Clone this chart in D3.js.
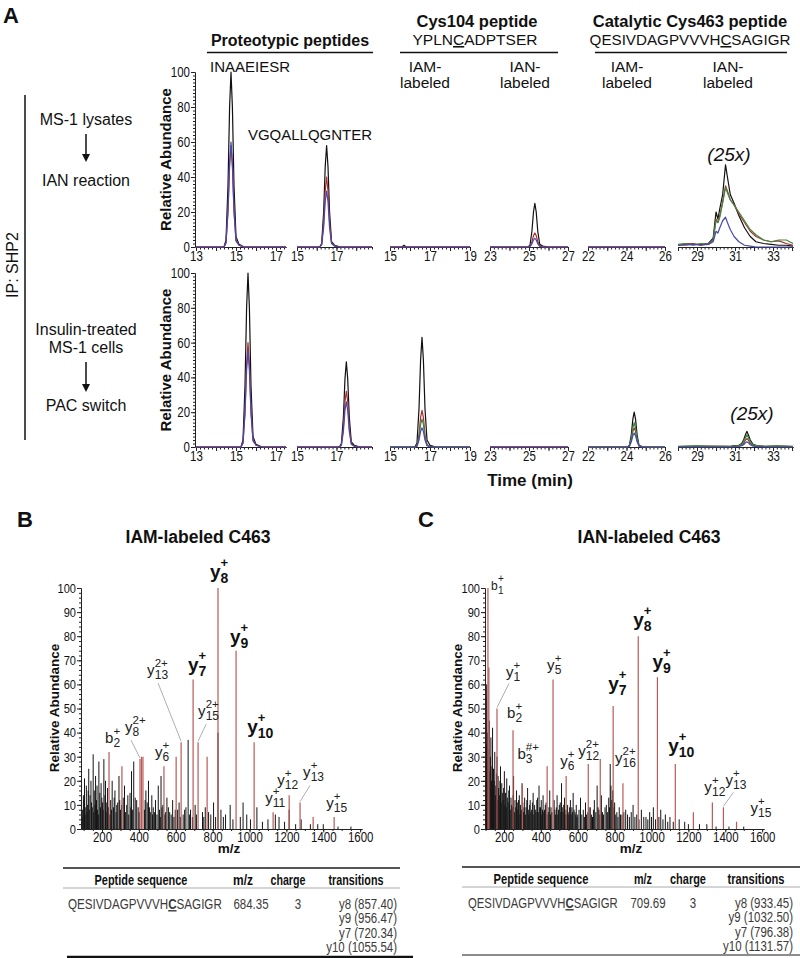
<!DOCTYPE html>
<html><head><meta charset="utf-8">
<script src="https://cdn.jsdelivr.net/npm/d3@7/dist/d3.min.js"></script>
<style>
body{margin:0;background:#fff}
svg{display:block}
text{font-family:"Liberation Sans",Arial,Helvetica,sans-serif;fill:#111}
</style></head><body>
<svg id="fig" width="800" height="958"></svg>
<script>
// ---------------- DATA ----------------
// Panel A: extracted-ion chromatograms (time in min, relative abundance)
const chromPeptides = ["INAAEIESR","VGQALLQGNTER","YPLNCADPTSER IAM","YPLNCADPTSER IAN","QESIVDAGPVVVHCSAGIGR IAM","QESIVDAGPVVVHCSAGIGR IAN"];
const chromDomains = [[13,17.5],[15,18.8],[15,19],[23,27],[22,26],[28,34.05]];
const chromTicks = [[13,15,17],[15,17],[15,17,19],[23,25,27],[22,24,26],[29,31,33]];
const yTicksA = [0,20,40,60,80,100];

const topTimes = [
 [13,14.4,14.5,14.6,14.68,14.75,14.82,14.9,15.0,15.15,15.4,17.5],
 [15,16.15,16.25,16.35,16.43,16.5,16.57,16.65,16.75,16.9,17.2,18.8],
 [15,15.6,15.7,15.8,19],
 [23,24.95,25.05,25.15,25.23,25.3,25.37,25.45,25.55,25.7,26,27],
 [22,26],
 [28,28.4,28.8,29.2,29.6,29.85,30.0,30.1,30.2,30.35,30.5,30.6,30.75,30.95,31.2,31.5,31.8,32.1,32.5,32.9,33.3,33.7,34.05]
];
const topBlack = [
 [0,0,4,35,80,100,80,35,6,1.5,0,0],
 [0,0,2,20,46,58,46,20,3,1,0,0],
 [0,0,1,0,0],
 [0,0,1,9,20,25,20,9,1.5,0.5,0,0],
 [0,0],
 [1,2,1.5,1.5,2,5,20,16,22,30,47,40,30,25,18,11,6,3,2,1.5,1,1,0.5]
];
const topRed = [
 [0,0,2.3,20,46,58,46,20,3.5,1,0,0],
 [0,0,1.5,14,32,40,32,14,2.4,0.6,0,0],
 [0,0,0,0,0],
 [0,0,0.3,3,6.5,8,6.5,3,0.5,0.2,0,0],
 [0,0],
 [1,1.5,2,1,2,4,16,14,18,26,35,32,27,24,19,14,9,6,4,3,3.5,2,1]
];
const topBlue = [
 [0,0,2.4,21,48,60,48,21,3.6,1,0,0],
 [0,0,1.2,11,26,32,26,11,2,0.5,0,0],
 [0,0,0,0,0],
 [0,0,0.2,1.8,4,5,4,1.8,0.3,0.1,0,0],
 [0,0],
 [1,1,1.5,1,1.5,3,9,8,11,15,17,14,10,6,3,1,0.5,0,0,0,0,0,0]
];
const topGreen = [null,null,null,null,null,
 [1.5,2,1,2,1.5,4,15,14,17,25,34,31,27,24,20,15,10,7,4,3,4,4,2]
];

const botTimes = [
 [13,15.25,15.35,15.45,15.53,15.6,15.67,15.75,15.85,16.0,16.3,17.5],
 [15,17.15,17.25,17.35,17.43,17.5,17.57,17.65,17.75,17.9,18.2,18.8],
 [15,16.25,16.35,16.45,16.53,16.6,16.67,16.75,16.85,17.0,17.3,19],
 [23,27],
 [22,24.05,24.15,24.25,24.33,24.4,24.47,24.55,24.65,24.8,25.1,26],
 [28,29,30,30.8,31.2,31.35,31.45,31.55,31.62,31.7,31.8,31.95,32.2,32.6,33.2,34.05]
];
const botBlack = [
 [0,0,4,35,80,100,80,35,6,1.5,0,0],
 [0,0,2,17,39,49,39,17,3,1,0,0],
 [0,0,2.5,22,50,63,50,22,4,1,0,0],
 [0,0],
 [0,0,1,7,16,20,16,7,1,0.3,0,0],
 [0.3,0.5,0.3,0.5,1,2,4,7,9,7,4,1.5,0.6,0.3,0.5,0.3]
];
const botRed = [
 [0,0,2.5,21,48,60,48,21,4,1,0,0],
 [0,0,1.3,11,26,32,26,11,2,0.5,0,0],
 [0,0,0.8,7,17,21,17,7,1.3,0.4,0,0],
 [0,0],
 [0,0,0.5,4,9,11,9,4,0.6,0.2,0,0],
 [0.3,0.3,0.5,0.3,0.6,1,2,4,5,4,2,1,0.5,0.3,0.4,0.2]
];
const botBlue = [
 [0,0,2.2,19,44,55,44,19,3.5,1,0,0],
 [0,0,1,9,21,26,21,9,1.6,0.4,0,0],
 [0,0,0.4,4,9,11,9,4,0.7,0.2,0,0],
 [0,0],
 [0,0,0.3,3,6.5,8,6.5,3,0.5,0.1,0,0],
 [0,0,0,0,0.3,0.7,1.3,2.5,3,2.5,1.3,0.5,0.2,0,0,0]
];
const botGreen = [null,null,
 [0,0,0.6,5.5,13,16,13,5.5,1,0.3,0,0],
 null,
 [0,0,0.7,5,11,14,11,5,0.8,0.3,0,0],
 [0.4,0.6,0.4,0.3,0.8,1.5,3,5.5,7,5.5,3,1.2,0.6,0.5,0.6,0.4]
];

// Panels B and C: MS/MS spectra [m/z, relative abundance]
const bBlack = [[92,5],[95,8],[99,14],[102,12],[105,21],[108,6],[112,9],[115,18],[119,7],[122,10],[125,16],[128,25],[131,8],[135,14],[140,20],[143,11],[147,9],[152,31],[155,7],[158,16],[162,10],[165,22],[170,12],[173,18],[176,8],[180,6],[183,28],[188,15],[192,9],[195,19],[199,13],[203,11],[206,8],[210,29],[216,14],[219,20],[222,7],[226,11],[230,17],[235,9],[242,6],[247,12],[251,8],[255,20],[262,9],[266,13],[270,16],[276,7],[280,10],[285,11],[292,22],[296,12],[300,8],[306,10],[315,13],[322,18],[328,7],[334,10],[340,14],[345,6],[352,15],[356,9],[360,24],[366,8],[372,28],[380,13],[388,12],[396,9],[402,7],[430,8],[434,12],[438,16],[445,11],[452,20],[458,9],[462,7],[470,14],[474,6],[478,9],[484,7],[490,12],[498,6],[505,18],[512,8],[516,5],[520,22],[525,9],[530,10],[540,6],[545,7],[552,13],[560,9],[567,7],[575,6],[583,12],[590,5],[597,8],[610,8],[618,11],[625,5],[640,6],[648,8],[655,9],[667,37],[674,6],[680,8],[690,5],[705,10],[712,6],[745,7],[752,5],[760,9],[778,7],[790,6],[805,11],[816,5],[829,40],[845,8],[858,5],[870,6],[895,10],[910,4],[950,5],[965,11],[985,6],[1005,4],[1040,9],[1070,3],[1100,4],[1140,6],[1160,5],[1190,3],[1215,8],[1250,2],[1280,4],[1330,2],[1370,2],[1400,2],[1480,1],[1550,1]];
const bRed = [[238,32],[308,26],[406,29],[414,30],[422,30],[536,26],[602,30],[629,36],[694,62],[721,36],[770,30],[829,100],[927,74],[1025,36],[1128,7],[1215,14],[1274,11],[1345,5],[1459,5]];
const bIons = [["y","8","+",829,100],["y","9","+",927,74],["y","7","+",694,62],["y","10","+",1025,36],["y","13","2+",629,36],["y","15","2+",721,36],["y","8","2+",406,29],["b","2","+",238,32],["y","6","+",536,26],["y","11","+",1128,7],["y","12","+",1215,14],["y","13","+",1274,11],["y","15","+",1459,5]];

const cBlack = [[100,22],[102,55],[104,35],[106,60],[108,18],[110,40],[112,28],[115,33],[120,45],[123,24],[126,30],[129,38],[132,20],[135,26],[138,42],[141,16],[143,25],[147,20],[150,32],[153,14],[156,18],[159,23],[162,30],[165,12],[168,22],[171,17],[175,14],[178,20],[181,26],[185,11],[188,19],[191,15],[195,12],[198,17],[202,24],[205,10],[208,15],[212,9],[215,21],[218,13],[222,11],[226,16],[230,18],[234,8],[238,13],[242,10],[246,9],[249,14],[252,22],[256,7],[260,12],[264,9],[268,16],[272,11],[275,8],[279,12],[283,14],[287,6],[290,10],[294,8],[298,19],[302,11],[305,7],[309,9],[312,13],[316,6],[320,9],[324,12],[328,17],[332,8],[335,6],[339,10],[342,12],[346,7],[350,8],[354,11],[358,15],[362,6],[366,10],[370,8],[374,7],[378,12],[382,13],[386,7],[390,18],[394,9],[398,9],[402,12],[405,6],[409,8],[412,14],[416,7],[420,8],[424,10],[428,11],[435,6],[440,7],[444,9],[448,16],[452,6],[455,9],[460,7],[472,12],[476,8],[480,6],[484,9],[488,14],[492,6],[496,8],[500,10],[505,11],[508,7],[512,19],[516,9],[520,7],[524,10],[528,13],[532,6],[536,8],[540,6],[545,10],[548,7],[552,6],[556,9],[560,12],[564,6],[568,9],[571,7],[575,15],[580,8],[585,7],[589,6],[592,10],[596,5],[600,6],[607,8],[615,13],[622,6],[630,8],[636,5],[642,11],[648,6],[655,7],[661,9],[668,9],[674,6],[680,5],[685,8],[690,12],[698,7],[705,18],[710,9],[715,8],[720,6],[728,14],[734,7],[740,6],[748,9],[755,10],[762,7],[768,13],[772,9],[776,27],[780,18],[785,12],[790,16],[795,9],[800,11],[806,6],[812,7],[818,5],[825,9],[832,6],[840,6],[850,7],[860,8],[870,6],[880,5],[890,7],[900,10],[910,5],[920,6],[932,4],[945,8],[958,5],[970,5],[980,4],[990,7],[1000,5],[1010,9],[1022,4],[1040,5],[1050,8],[1062,4],[1075,6],[1088,3],[1100,5],[1118,3],[1150,4],[1180,3],[1200,2],[1260,2],[1300,2],[1350,1],[1420,1],[1500,1]];
const cRed = [[113,100],[118,67],[162,50],[249,41],[300,18],[434,26],[466,62],[537,22],[657,27],[722,29],[792,51],[845,19],[928,80],[1032,63],[1129,27],[1227,7],[1330,11],[1390,9],[1461,3]];
const cIons = [["b","1","+",113,100],["y","1","+",162,50],["b","2","+",249,41],["b","3","#+",300,18],["y","5","+",466,62],["y","6","+",537,22],["y","12","2+",657,27],["y","16","2+",845,19],["y","7","+",792,51],["y","8","+",928,80],["y","9","+",1032,63],["y","10","+",1129,27],["y","12","+",1330,11],["y","13","+",1390,9],["y","15","+",1461,3]];

const mzTicks = [200,400,600,800,1000,1200,1400,1600];
const abTicks = [0,10,20,30,40,50,60,70,80,90,100];

// Tables
const tableHeaders = ["Peptide sequence","m/z","charge","transitions"];
const peptideSeq = ["QESIVDAGPVVVH","C","SAGIGR"];
const precursorMz = ["684.35","709.69"];
const charges = ["3","3"];
const transitionsB = ["y8 (857.40)","y9 (956.47)","y7 (720.34)","y10 (1055.54)"];
const transitionsC = ["y8 (933.45)","y9 (1032.50)","y7 (796.38)","y10 (1131.57)"];

// ---------------- LAYOUT / DRAW ----------------
const svg = d3.select('#fig');
const FONT = '"Liberation Sans",Arial,Helvetica,sans-serif';
const NARROW = 0.82;
function squeeze(t,k){ // horizontal condensing around the text's x anchor
  const x = +t.attr('x') || 0;
  t.attr('transform',`translate(${x},0) scale(${k},1) translate(${-x},0)`);
  return t;
}
function fitWidth(t,w){
  const n = t.node().getComputedTextLength();
  if(n>0) squeeze(t, w/n);
  return t;
}
function txt(x,y,s,size,opts={}){
  const t = svg.append('text').attr('x',x).attr('y',y).attr('font-size',size).text(s);
  if(opts.bold) t.attr('font-weight','bold');
  if(opts.anchor) t.attr('text-anchor',opts.anchor);
  if(opts.italic) t.attr('font-style','italic');
  if(opts.fill) t.style('fill',opts.fill);
  if(opts.rot) t.attr('transform',`rotate(${opts.rot},${x},${y})`);
  return t;
}
function styleAxis(g,size){
  g.attr('font-family',null).attr('font-size',null);
  g.selectAll('text').attr('font-size',size).style('fill','#111').attr('font-family',FONT)
    .each(function(){ squeeze(d3.select(this),NARROW); });
  g.selectAll('line,path').attr('stroke','#222');
}

// ---- Panel A headers
txt(3,23,'A',22,{bold:true});
txt(290,46,'Proteotypic peptides',16,{bold:true,anchor:'middle'});
svg.append('line').attr('x1',207).attr('x2',373).attr('y1',52.5).attr('y2',52.5).attr('stroke','#111').attr('stroke-width',1.5);
txt(477,27,'Cys104 peptide',16.5,{bold:true,anchor:'middle'});
const t1 = txt(475,45,'',15.5,{anchor:'middle'});
t1.append('tspan').text('YPLN'); t1.append('tspan').attr('text-decoration','underline').text('C'); t1.append('tspan').text('ADPTSER');
svg.append('line').attr('x1',400).attr('x2',558).attr('y1',52.5).attr('y2',52.5).attr('stroke','#111').attr('stroke-width',1.5);
txt(690,27,'Catalytic Cys463 peptide',16.5,{bold:true,anchor:'middle'});
const t2 = txt(690,45,'',15.2,{anchor:'middle'});
t2.append('tspan').text('QESIVDAGPVVVH'); t2.append('tspan').attr('text-decoration','underline').text('C'); t2.append('tspan').text('SAGIGR');
svg.append('line').attr('x1',595).attr('x2',787).attr('y1',52.5).attr('y2',52.5).attr('stroke','#111').attr('stroke-width',1.5);
[[425,'IAM-'],[525,'IAN-'],[627,'IAM-'],[728,'IAN-']].forEach(d=>{
  txt(d[0],72,d[1],15.5,{anchor:'middle'});
  txt(d[0],88,'labeled',15.5,{anchor:'middle'});
});
txt(250,72,chromPeptides[0],15,{anchor:'middle'});
txt(310,140,chromPeptides[1],15,{anchor:'middle'});

// left annotations
svg.append('line').attr('x1',25).attr('x2',25).attr('y1',95).attr('y2',440).attr('stroke','#111').attr('stroke-width',1.5);
txt(18,265,'IP: SHP2',16,{anchor:'middle',rot:-90});
function arrow(x,y1,y2){
  svg.append('line').attr('x1',x).attr('x2',x).attr('y1',y1).attr('y2',y2-6).attr('stroke','#111').attr('stroke-width',1.5);
  svg.append('path').attr('d',`M${x-4},${y2-8}L${x+4},${y2-8}L${x},${y2}Z`).attr('fill','#111');
}
txt(86,125,'MS-1 lysates',16,{anchor:'middle'});
arrow(86,134,162);
txt(86,186,'IAN reaction',16,{anchor:'middle'});
txt(86,335,'Insulin-treated',16,{anchor:'middle'});
txt(86,353,'MS-1 cells',16,{anchor:'middle'});
arrow(86,362,392);
txt(86,411,'PAC switch',16,{anchor:'middle'});

// chromatograms
const panelX = [[196,286],[297,372],[390,470],[490,568],[588,665],[678,793]];
const rowY = [[247,72],[447,273]];
const traceColor = {black:'#111', red:'#a83232', green:'#3e8a3e', blue:'#4848b0'};
const drawOrder = ['black','red','green','blue'];
const rowsData = [
  {times:topTimes, black:topBlack, red:topRed, green:topGreen, blue:topBlue},
  {times:botTimes, black:botBlack, red:botRed, green:botGreen, blue:botBlue}
];
rowsData.forEach((rd,ri)=>{
  const y = d3.scaleLinear().domain([0,100]).range(rowY[ri]);
  const gyMinor = svg.append('g').attr('transform','translate(195,0)')
    .call(d3.axisLeft(y).tickValues(d3.range(0,101,2)).tickSize(2).tickFormat('').tickSizeOuter(0));
  styleAxis(gyMinor,14);
  const gy = svg.append('g').attr('transform','translate(195,0)')
    .call(d3.axisLeft(y).tickValues(yTicksA).tickSize(4).tickPadding(1).tickSizeOuter(0));
  styleAxis(gy,14);
  txt(171,(rowY[ri][0]+rowY[ri][1])/2,'Relative Abundance',15,{bold:true,anchor:'middle',rot:-90});
  chromDomains.forEach((dom,pi)=>{
    const x = d3.scaleLinear().domain(dom).range(panelX[pi]);
    const minor = d3.range(Math.ceil(dom[0]*5-1e-6), Math.floor(dom[1]*5+1e-6)+1).map(k=>k/5);
    const gm = svg.append('g').attr('transform',`translate(0,${y(0)})`)
      .call(d3.axisBottom(x).tickValues(minor).tickSize(2.5).tickFormat('').tickSizeOuter(0));
    styleAxis(gm,14);
    const ints = d3.range(Math.ceil(dom[0]), Math.floor(dom[1])+1);
    const ga = svg.append('g').attr('transform',`translate(0,${y(0)})`)
      .call(d3.axisBottom(x).tickValues(ints).tickSize(4).tickPadding(0).tickSizeOuter(0)
        .tickFormat(d=>chromTicks[pi].includes(d)?d:''));
    styleAxis(ga,14);
    const line = d3.line().x(d=>x(d[0])).y(d=>y(d[1]));
    drawOrder.forEach(s=>{
      const vals = rd[s][pi]; if(!vals) return;
      const pts = rd.times[pi].map((t,i)=>[t,vals[i]]);
      svg.append('path').datum(pts).attr('d',line).attr('fill','none')
        .attr('stroke',traceColor[s]).attr('stroke-width',1.2).attr('stroke-linejoin','round');
    });
  });
});
txt(729,161,'(25x)',19,{italic:true,anchor:'middle'});
txt(752,420,'(25x)',19,{italic:true,anchor:'middle'});
txt(530,486,'Time (min)',17,{bold:true,anchor:'middle'});

// ---- Panels B & C
function ion(x,y,base,sub,sup,style){
  const S = {bold:{b:19,s:14,p:13,w:'bold',bw:10.5,pu:-11,sd:5,c:'#111'},
             reg:{b:15,s:12,p:11.5,w:'normal',bw:7.6,pu:-8,sd:4,c:'#222'},
             small:{b:12,s:10,p:10,w:'normal',bw:6.5,pu:-8,sd:4,c:'#222'}}[style];
  const bw = base==='b' ? S.bw*1.1 : S.bw;
  txt(x,y,base,S.b,{bold:S.w==='bold',fill:S.c});
  txt(x+bw,y+S.pu,sup,S.p,{bold:S.w==='bold',fill:S.c});
  txt(x+bw,y+S.sd,sub,S.s,{bold:S.w==='bold',fill:S.c});
}
function spectrum(cfg){
  const x = d3.scaleLinear().domain(cfg.xDomain).range(cfg.xRange);
  const y = d3.scaleLinear().domain([0,100]).range([829,588]);
  const g = svg.append('g');
  g.selectAll('line.bk').data(cfg.black).join('line').attr('class','bk')
    .attr('x1',d=>x(d[0])).attr('x2',d=>x(d[0])).attr('y1',y(0)).attr('y2',d=>y(d[1]))
    .attr('stroke','#151515').attr('stroke-width',1);
  g.selectAll('line.rd').data(cfg.red).join('line').attr('class','rd')
    .attr('x1',d=>x(d[0])).attr('x2',d=>x(d[0])).attr('y1',y(0)).attr('y2',d=>y(d[1]))
    .attr('stroke','#b85a55').attr('stroke-width',1.2);
  const gym = svg.append('g').attr('transform',`translate(${cfg.xRange[0]},0)`)
    .call(d3.axisLeft(y).tickValues(d3.range(0,101,2)).tickSize(2).tickFormat('').tickSizeOuter(0));
  styleAxis(gym,13.5);
  const gy = svg.append('g').attr('transform',`translate(${cfg.xRange[0]},0)`)
    .call(d3.axisLeft(y).tickValues(abTicks).tickSize(4).tickPadding(1).tickSizeOuter(0));
  styleAxis(gy,13.5);
  const gxm = svg.append('g').attr('transform',`translate(0,${y(0)})`)
    .call(d3.axisBottom(x).tickValues(d3.range(100,1601,50)).tickSize(2).tickFormat('').tickSizeOuter(0));
  styleAxis(gxm,13.5);
  const gx = svg.append('g').attr('transform',`translate(0,${y(0)})`)
    .call(d3.axisBottom(x).tickValues(mzTicks).tickFormat(d3.format('d')).tickSize(3.5).tickPadding(0).tickSizeOuter(0));
  styleAxis(gx,14);
  txt(cfg.mzLabelX,853,'m/z',13.5,{bold:true,anchor:'middle'});
  txt(cfg.yLabelX,708,'Relative Abundance',13.5,{bold:true,anchor:'middle',rot:-90});
  txt(cfg.titleX,543,cfg.title,17.5,{bold:true,anchor:'middle'});
  txt(cfg.letterX,527,cfg.letter,22,{bold:true});
  cfg.ions.forEach((d,i)=>{
    const L = cfg.layout[i];
    const px = x(d[3]), py = y(d[4]);
    const ax = px+L[0], ay = py+L[1];
    if(L[3]) svg.append('line').attr('x1',ax+L[3][0]).attr('y1',ay+L[3][1]).attr('x2',px).attr('y2',py-1)
      .attr('stroke','#999').attr('stroke-width',0.8);
    ion(ax,ay,d[0],d[1],d[2],L[2]);
  });
}
spectrum({xDomain:[86,1610],xRange:[81,362],black:bBlack,red:bRed,ions:bIons,
  layout:[[-8,-10,'bold'],[-6,-8,'bold'],[-5,-9,'bold'],[-7,-9,'bold'],[-34,-67,'reg',[11,8]],[0,-26,'reg',[8,8]],[-15,-27,'reg',[6,8]],[-4,-9,'reg'],[-9,-9,'reg'],[-8,-9,'reg'],[-12,-10,'reg'],[3,-25,'reg',[7,8]],[-8,-9,'reg']],
  mzLabelX:229,yLabelX:59,titleX:198,title:'IAM-labeled C463',letterX:17,letter:'B'});
spectrum({xDomain:[97,1610],xRange:[485,764],black:cBlack,red:cRed,ions:cIons,
  layout:[[3,2,'small'],[9,-32,'reg',[3,7]],[-6,-12,'reg'],[-5,-27,'reg'],[-6,-10,'reg'],[-6,-10,'reg'],[-10,-8,'reg'],[-8,-20,'reg'],[-5,-16,'bold'],[-5,-10,'bold'],[-5,-9,'bold'],[-7,-12,'bold'],[-8,-10,'reg'],[2,-22,'reg',[8,7]],[14,-9,'reg']],
  mzLabelX:631,yLabelX:462,titleX:649,title:'IAN-labeled C463',letterX:418,letter:'C'});

// ---- Tables
function table(cfg){
  svg.append('line').attr('x1',cfg.x0).attr('x2',cfg.x1).attr('y1',cfg.top).attr('y2',cfg.top).attr('stroke','#555').attr('stroke-width',2);
  svg.append('line').attr('x1',cfg.x0).attr('x2',cfg.x1).attr('y1',cfg.top+20).attr('y2',cfg.top+20).attr('stroke','#aaa').attr('stroke-width',1);
  svg.append('line').attr('x1',cfg.bx0).attr('x2',cfg.bx1).attr('y1',cfg.bottom).attr('y2',cfg.bottom).attr('stroke',cfg.bColor).attr('stroke-width',cfg.bw);
  tableHeaders.forEach((h,i)=>{
    fitWidth(txt(cfg.hx[i],cfg.top+17,h,15,{bold:true,anchor:'middle'}), cfg.hw[i]);
  });
  const ry = cfg.top+41;
  const s = txt(cfg.seqX,ry,'',14,{fill:'#3a3a3a'});
  s.append('tspan').text(peptideSeq[0]);
  s.append('tspan').attr('font-weight','bold').attr('text-decoration','underline').text(peptideSeq[1]);
  s.append('tspan').text(peptideSeq[2]);
  fitWidth(s,cfg.seqW);
  squeeze(txt(cfg.mzX,ry,cfg.mz,14,{anchor:'middle',fill:'#3a3a3a'}),NARROW);
  squeeze(txt(cfg.chX,ry,cfg.ch,14,{anchor:'middle',fill:'#3a3a3a'}),NARROW);
  cfg.trans.forEach((t,i)=>squeeze(txt(cfg.trX,ry+i*14.5,t,14,{anchor:'end',fill:'#3a3a3a'}),NARROW));
}
table({x0:63,x1:400,top:868,bx0:67,bx1:413,bottom:957,bColor:'#111',bw:2.5,
  hx:[141,243,288,356],hw:[93,20,35,55],seqX:68,seqW:154,mzX:251,mz:precursorMz[0],chX:298,ch:charges[0],trX:397,trans:transitionsB});
table({x0:462,x1:800,top:867,bx0:462,bx1:800,bottom:955,bColor:'#666',bw:1.5,
  hx:[541,643,688,756],hw:[95,18,36,57],seqX:468,seqW:150,mzX:648,mz:precursorMz[1],chX:693,ch:charges[1],trX:793,trans:transitionsC});
</script></body></html>
